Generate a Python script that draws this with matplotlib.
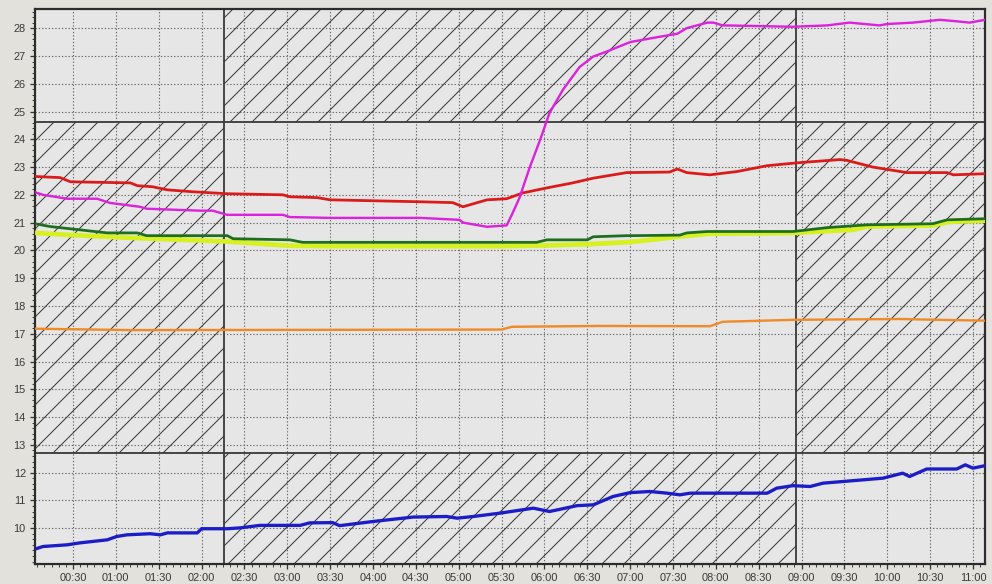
import matplotlib
matplotlib.use('Agg')
import matplotlib.pyplot as plt
from matplotlib.patches import Rectangle
from matplotlib.ticker import MultipleLocator, FixedLocator, FuncFormatter

# time in decimal hours, readings per sensor
mag_t = [0.06, 0.15, 0.43, 0.78, 0.93, 1.28, 1.36, 1.98, 2.13, 2.3, 2.95, 3.03, 3.5, 4.55,
         5.01, 5.05, 5.33, 5.56, 5.63, 5.71, 5.83, 5.95, 6.06, 6.22, 6.41, 6.57, 6.73, 7.0,
         7.27, 7.55, 7.66, 7.9, 7.97, 8.08, 8.43, 8.9, 9.3, 9.56, 9.91, 10.0, 10.3, 10.61,
         10.8, 10.96, 11.14]
mag_v = [22.09, 22.0, 21.86, 21.86, 21.71, 21.57, 21.5, 21.43, 21.43, 21.28, 21.28, 21.2,
         21.17, 21.17, 21.1, 21.0, 20.85, 20.9, 21.35, 21.9, 23.0, 23.98, 24.95, 25.8, 26.6,
         26.98, 27.16, 27.5, 27.65, 27.8, 28.0, 28.2, 28.2, 28.1, 28.08, 28.05, 28.1, 28.2,
         28.1, 28.15, 28.2, 28.3, 28.25, 28.2, 28.3]

red_t = [0.06, 0.35, 0.47, 1.17, 1.25, 1.43, 1.6, 1.9, 2.3, 2.95, 3.03, 3.35, 3.5, 4.55,
         4.93, 5.05, 5.33, 5.56, 5.75, 6.03, 6.33, 6.57, 6.96, 7.46, 7.55, 7.66, 7.93, 8.25,
         8.6, 8.98, 9.45, 9.53, 9.83, 10.23, 10.7, 10.77, 11.14]
red_v = [22.66, 22.62, 22.47, 22.43, 22.33, 22.29, 22.18, 22.11, 22.04, 22.0, 21.93, 21.9,
         21.82, 21.75, 21.72, 21.57, 21.82, 21.86, 22.07, 22.25, 22.43, 22.6, 22.8, 22.82,
         22.93, 22.8, 22.72, 22.84, 23.05, 23.16, 23.27, 23.24, 23.0, 22.8, 22.8, 22.72, 22.76]

yel_t = [0.06, 0.43, 1.2, 2.3, 3.03, 3.5, 4.5, 5.5, 6.0, 6.5, 7.0, 7.3, 7.58, 7.93, 8.9,
         9.6, 9.76, 10.53, 10.72, 11.14]
yel_v = [20.63, 20.56, 20.45, 20.32, 20.17, 20.15, 20.15, 20.15, 20.18, 20.22, 20.3, 20.4,
         20.5, 20.6, 20.63, 20.74, 20.86, 20.9, 21.03, 21.07]

grn_t = [0.06, 0.23, 0.9, 1.25, 1.36, 2.3, 2.37, 3.03, 3.18, 5.91, 6.03, 6.5, 6.57, 6.96,
         7.02, 7.58, 7.66, 7.9, 8.9, 9.3, 9.76, 10.53, 10.7, 11.14]
grn_v = [20.96, 20.86, 20.63, 20.63, 20.53, 20.53, 20.42, 20.38, 20.29, 20.29, 20.38, 20.38,
         20.49, 20.53, 20.53, 20.55, 20.63, 20.68, 20.68, 20.82, 20.92, 20.96, 21.1, 21.14]

org_t = [0.06, 1.2, 3.5, 5.5, 5.62, 6.65, 7.93, 8.08, 8.9, 10.15, 10.6, 11.14]
org_v = [17.18, 17.13, 17.14, 17.15, 17.25, 17.28, 17.27, 17.43, 17.5, 17.53, 17.5, 17.47]

blu_t = [0.06, 0.15, 0.43, 0.58, 0.9, 1.01, 1.13, 1.4, 1.52, 1.6, 1.95, 2.0, 2.3, 2.45,
         2.68, 3.15, 3.26, 3.53, 3.61, 4.0, 4.47, 4.86, 4.98, 5.17, 5.48, 5.87, 6.06, 6.38,
         6.57, 6.8, 7.0, 7.23, 7.43, 7.58, 7.7, 8.6, 8.71, 8.9, 9.1, 9.25, 9.95, 10.18,
         10.26, 10.46, 10.81, 10.91, 11.0, 11.14]
blu_v = [9.25, 9.34, 9.4, 9.47, 9.58, 9.7, 9.76, 9.8, 9.76, 9.83, 9.83, 9.98, 9.98, 10.01,
         10.1, 10.1, 10.19, 10.2, 10.09, 10.24, 10.4, 10.42, 10.36, 10.42, 10.54, 10.72,
         10.6, 10.81, 10.84, 11.14, 11.28, 11.32, 11.26, 11.2, 11.26, 11.26, 11.44, 11.53,
         11.5, 11.62, 11.8, 11.98, 11.86, 12.13, 12.13, 12.28, 12.16, 12.25]

y_ticks = list(range(10, 29))

# period boundaries (hours) and band limits
t_start, t_end = 0.057, 11.14
period_a, period_b = 2.26, 8.93
band_lo, band_hi = 12.72, 24.64
y_min, y_max = 8.71, 28.69

plt.rcParams['hatch.linewidth'] = 0.55
plt.rcParams['font.family'] = ['Liberation Sans', 'DejaVu Sans']

fig = plt.figure(figsize=(992 / 132, 584 / 132), dpi=132, facecolor='#e2e1db')
ax = fig.add_axes([35 / 992, 1 - 564 / 584, 950 / 992, 555 / 584])
ax.set_facecolor('#e6e6e6')
ax.set_xlim(t_start, t_end)
ax.set_ylim(y_min, y_max)

# hatched zones: top band in the middle period, middle band outside it, bottom band inside
zones = [(period_a, period_b, band_hi, y_max),
         (t_start, period_a, band_lo, band_hi),
         (period_b, t_end, band_lo, band_hi),
         (period_a, period_b, y_min, band_lo)]
for a, b, lo, hi in zones:
    ax.add_patch(Rectangle((a, lo), b - a, hi - lo, facecolor='none', edgecolor='#383838',
                           linewidth=0, hatch='//', zorder=1))

for yv in (band_lo, band_hi):
    ax.axhline(yv, color='#3c3c3c', lw=1.0, zorder=2)
for xv in (period_a, period_b):
    ax.axvline(xv, color='#3c3c3c', lw=1.0, zorder=2)

ax.plot(yel_t, yel_v, color='#d6f022', lw=2.6, zorder=3)
ax.plot(grn_t, grn_v, color='#1f6d1f', lw=1.5, zorder=4)
ax.plot(org_t, org_v, color='#f08a28', lw=1.3, zorder=4)
ax.plot(red_t, red_v, color='#dc1a1a', lw=1.5, zorder=4)
ax.plot(mag_t, mag_v, color='#dc22dc', lw=1.3, zorder=5)
ax.plot(blu_t, blu_v, color='#1c1cc8', lw=1.8, zorder=4)

ax.xaxis.set_major_locator(MultipleLocator(0.5))
ax.xaxis.set_minor_locator(MultipleLocator(1 / 12))
ax.xaxis.set_major_formatter(FuncFormatter(
    lambda h, pos: f"{int(h):02d}:{int(round((h % 1) * 60)):02d}"))
ax.yaxis.set_major_locator(FixedLocator(y_ticks))
ax.yaxis.set_minor_locator(MultipleLocator(0.2))

ax.grid(True, which='major', color='#666666', linestyle=(0, (1.2, 1.8)), linewidth=0.6,
        zorder=0.5)
ax.set_axisbelow(True)

ax.tick_params(which='major', length=2.5, width=0.7, color='#333333', labelsize=6.0,
               labelcolor='#3a3a3a', pad=2.5)
ax.tick_params(which='minor', length=1.5, width=0.5, color='#333333')
for s in ax.spines.values():
    s.set_color('#2c2c2c')
    s.set_linewidth(1.2)

fig.savefig('out.png', dpi=132, facecolor=fig.get_facecolor())
